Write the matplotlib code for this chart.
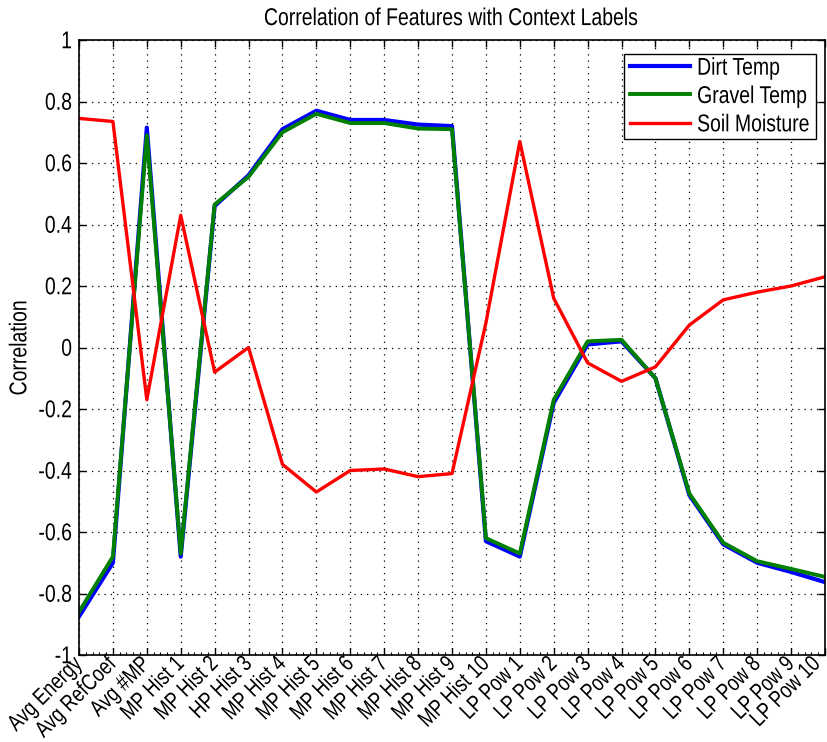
import matplotlib
matplotlib.use("Agg")
import matplotlib.pyplot as plt
from matplotlib.ticker import MultipleLocator
import matplotlib.transforms as mtransforms
from matplotlib.patheffects import AbstractPathEffect

plt.rcParams['font.family'] = ['Liberation Sans', 'DejaVu Sans']

categories = ["Avg Energy", "Avg RefCoef", "Avg #MP", "MP Hist 1", "MP Hist 2", "HP Hist 3",
              "MP Hist 4", "MP Hist 5", "MP Hist 6", "MP Hist 7", "MP Hist 8", "MP Hist 9",
              "MP Hist 10", "LP Pow 1", "LP Pow 2", "LP Pow 3", "LP Pow 4", "LP Pow 5",
              "LP Pow 6", "LP Pow 7", "LP Pow 8", "LP Pow 9", "LP Pow 10"]

dirt_temp = [-0.875, -0.70, 0.715, -0.68, 0.46, 0.56, 0.71, 0.77, 0.74, 0.74, 0.725, 0.72,
             -0.63, -0.68, -0.18, 0.01, 0.02, -0.10, -0.48, -0.64, -0.70, -0.73, -0.763]
gravel_temp = [-0.86, -0.68, 0.69, -0.67, 0.465, 0.555, 0.70, 0.76, 0.73, 0.73, 0.712, 0.71,
               -0.62, -0.67, -0.17, 0.02, 0.025, -0.10, -0.475, -0.635, -0.695, -0.72, -0.746]
soil_moisture = [0.745, 0.735, -0.17, 0.43, -0.08, 0.0, -0.38, -0.47, -0.40, -0.395, -0.42, -0.41,
                 0.08, 0.67, 0.16, -0.05, -0.11, -0.063, 0.073, 0.155, 0.18, 0.20, 0.23]
ytick_values = [-1, -0.8, -0.6, -0.4, -0.2, 0, 0.2, 0.4, 0.6, 0.8, 1]
ytick_labels = ["-1", "-0.8", "-0.6", "-0.4", "-0.2", "0", "0.2", "0.4", "0.6", "0.8", "1"]


class Stretch(AbstractPathEffect):
    """Stretch glyphs vertically (in text coordinates) about mid cap height."""
    def __init__(self, sy=1.25, c=36):
        super().__init__()
        self.sy = sy
        self.c = c

    def draw_path(self, renderer, gc, tpath, affine, rgbFace=None):
        pre = mtransforms.Affine2D().translate(0, -self.c).scale(1, self.sy).translate(0, self.c)
        renderer.draw_path(gc, tpath, pre + affine, rgbFace)


FS = 14
fig = plt.figure(figsize=(8.28, 7.42), dpi=100)
ax = fig.add_axes([79/828, 1 - 655/742, (825-79)/828, (655-40)/742])

x = list(range(len(categories)))
ax.plot(x, dirt_temp, color='#0000ff', lw=3.0, label='Dirt Temp')
ax.plot(x, gravel_temp, color='#008000', lw=2.8, label='Gravel Temp')
ax.plot(x, soil_moisture, color='#ff0000', lw=2.4, label='Soil Moisture')

ax.set_xlim(0, len(categories) - 1)
ax.set_ylim(-1, 1)
ax.set_xticks(x)
ax.set_xticklabels(categories, rotation=45, ha='right', va='center', rotation_mode='anchor', fontsize=13.2)
ax.set_yticks(ytick_values)
ax.set_yticklabels(ytick_labels, fontsize=FS)
ax.xaxis.set_minor_locator(MultipleLocator(0.2))
ax.tick_params(which='both', direction='in', top=True, right=True)
ax.tick_params(which='minor', top=False)
ax.tick_params(which='major', length=5, width=1)
ax.tick_params(which='minor', length=2, width=0.8)
ax.tick_params(axis='x', which='major', pad=4)
ax.tick_params(axis='y', which='major', pad=5)
ax.grid(True, which='major', linestyle=(0, (1, 4)), color='black', lw=0.9)
for s in ax.spines.values():
    s.set_linewidth(1.2)

# shift only the last category label a little left so it stays inside the figure
# (done after tick_params, which would otherwise reset label transforms)
xlabs = ax.get_xticklabels()
last = xlabs[-1]
last.set_transform(last.get_transform() + mtransforms.ScaledTranslation(-8/100, 0, fig.dpi_scale_trans))

ax.set_title("Correlation of Features with Context Labels", fontsize=FS, pad=12)
ax.set_ylabel("Correlation", fontsize=FS, labelpad=7)

leg = ax.legend(loc='upper right', fontsize=FS, frameon=True, fancybox=False,
                edgecolor='black', framealpha=1, handlelength=3.1, borderpad=0.3,
                labelspacing=0.55, handletextpad=0.35, borderaxespad=0,
                bbox_to_anchor=(0.988, 0.978))
leg.get_frame().set_linewidth(1.0)

stretch = [Stretch(1.25, 36)]
texts = list(xlabs) + list(ax.get_yticklabels()) + [ax.title, ax.yaxis.label] + list(leg.get_texts())
for t in texts:
    t.set_path_effects(stretch)

fig.savefig("out.png", dpi=100)
